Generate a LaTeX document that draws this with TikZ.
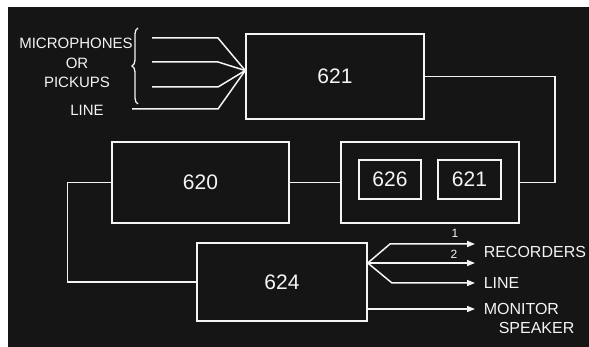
\documentclass[tikz,border=0pt]{standalone}
\usepackage{fontspec}
\setmainfont{Liberation Sans}
\usepackage{tikz}
\usetikzlibrary{positioning, arrows.meta, calc, decorations.pathreplacing}
\definecolor{panelblack}{HTML}{151515}
\definecolor{chalk}{HTML}{F4F4F4}

\begin{document}
\begin{tikzpicture}[x=1pt, y=-1pt, line width=1.5pt,
    unit/.style={draw=chalk, minimum width=#1, inner sep=0pt, text=chalk,
                 font=\fontsize{21}{21}\selectfont},
    lbl/.style={text=chalk, inner sep=0pt, font=\fontsize{15}{15}\selectfont},
    feed/.style={draw=chalk},
    outfeed/.style={draw=chalk, -{Triangle[length=8pt, width=6pt]}}]
  \useasboundingbox (0,0) rectangle (589,347);
  \fill[white] (0,0) rectangle (589,347);
  \fill[panelblack] (8,7) rectangle (589,347);

  % amplifier units
  \node[unit=178pt, minimum height=85pt] (mix) at (335,76.5) {621};
  \node[unit=178pt, minimum height=81pt] (rack) at (430,182.5) {};
  \node[unit=62pt, minimum height=39pt] (lim) at (390,179.5) {626};
  \node[unit=63pt, minimum height=39pt] (pre) at (469.5,179.5) {621};
  \node[unit=177pt, minimum height=81pt] (prog) at (200.5,182.5) {620};
  \node[unit=170pt, minimum height=78pt] (dist) at (282,282) {624};

  % inputs
  \coordinate (in) at ([yshift=6pt]mix.west);
  \foreach \i/\x/\y in {1/152/38, 2/152/62, 3/152/87, 4/132/109} {
    \coordinate (src\i) at (\x,\y);
    \draw[feed] (src\i) -- (218,\y) -- (in);
  }
  \draw[chalk, line width=1.3pt, decorate, decoration={brace, amplitude=6pt}] (138,104) -- (138,28);
  \node[lbl] (mic) at (76,43) {MICROPHONES};
  \node[lbl] (or) at (77,63) {OR};
  \node[lbl] (pick) at (77,82) {PICKUPS};
  \node[lbl] (linein) at (87,110) {LINE};

  % chain
  \draw[feed] (mix.east) -| ($(rack.east)+(35,0)$) -- (rack.east);
  \draw[feed] (prog.east) -- (rack.west);
  \draw[feed] (prog.west) -- ++(-44,0) |- (dist.west);

  % outputs
  \coordinate (fan) at ([yshift=19pt]dist.east);
  \coordinate (mon) at ([yshift=-27pt]dist.east);
  \coordinate (rec1) at (475,244);
  \coordinate (rec2) at (475,263);
  \coordinate (lineout) at (475,283);
  \coordinate (spk) at (475,309);
  \draw[outfeed] (fan) -- (390,244) -- (rec1);
  \draw[outfeed] (fan) -- (rec2);
  \draw[outfeed] (fan) -- (392,283) -- (lineout);
  \draw[outfeed] (mon) -- (spk);
  \node[lbl, font=\fontsize{12}{12}\selectfont] (n1) at (455,233) {1};
  \node[lbl, font=\fontsize{12}{12}\selectfont] (n2) at (454,254) {2};
  \node[lbl, anchor=west, font=\fontsize{16}{16}\selectfont] (recl) at (483,252) {RECORDERS};
  \node[lbl, anchor=west, font=\fontsize{16}{16}\selectfont] (linel) at (483,283) {LINE};
  \node[lbl, anchor=west, font=\fontsize{16}{16}\selectfont] (monl) at (483,309) {MONITOR};
  \node[lbl, anchor=west, font=\fontsize{16}{16}\selectfont] (spkl) at (498,328) {SPEAKER};
\end{tikzpicture}
\end{document}
